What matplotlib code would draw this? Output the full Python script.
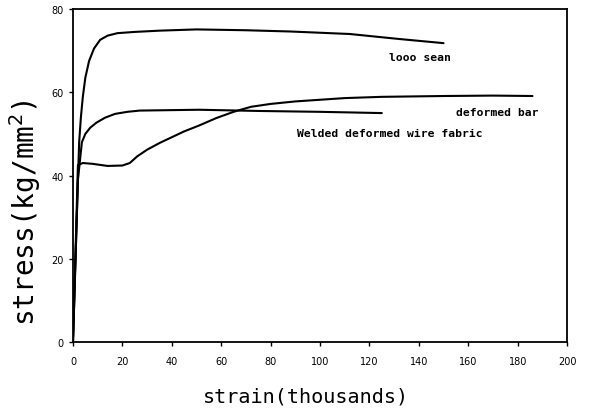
import matplotlib
matplotlib.use("Agg")
import matplotlib.pyplot as plt

# stress-strain curves (strain in thousands, stress in kg/mm2)
mesh_strain = [0, 2, 2.5, 3.2, 4, 5, 6.5, 8.5, 11, 14, 18, 25, 35, 50, 70, 88, 112, 132, 150]
mesh_stress = [0, 39, 48, 54, 59, 63.5, 67.5, 70.5, 72.6, 73.6, 74.2, 74.5, 74.8, 75.1,
               74.9, 74.6, 74.0, 72.8, 71.8]

wire_strain = [0, 2, 3.6, 5, 7, 9.5, 13, 17, 22, 27, 51, 76, 100, 125]
wire_stress = [0, 39, 48, 50, 51.5, 52.7, 53.9, 54.8, 55.3, 55.6, 55.8, 55.5, 55.3, 55.0]

bar_strain = [0, 2, 4, 8, 14, 20, 23, 26, 30, 35, 40, 45, 51, 58, 65, 72, 80, 90, 100,
              110, 125, 150, 170, 186]
bar_stress = [0, 42.5, 43, 42.8, 42.3, 42.4, 43, 44.6, 46.2, 47.8, 49.2, 50.6, 52.0, 53.8,
              55.3, 56.5, 57.2, 57.8, 58.2, 58.6, 58.9, 59.1, 59.2, 59.1]

x_ticks = [0, 20, 40, 60, 80, 100, 120, 140, 160, 180, 200]
y_ticks = [0, 20, 40, 60, 80]

fig = plt.figure(figsize=(5.91, 4.14), dpi=100)
ax = fig.add_axes([0.1235, 0.1715, 0.836, 0.8043])

for xs, ys in [(mesh_strain, mesh_stress), (wire_strain, wire_stress), (bar_strain, bar_stress)]:
    ax.plot(xs, ys, color="black", lw=1.5, solid_capstyle="round", solid_joinstyle="round")

lab = dict(fontsize=8.2, family="DejaVu Sans Mono", fontweight="bold", va="center")
ax.text(128, 68.5, "looo sean", **lab)
ax.text(155, 55.3, "deformed bar", **lab)
ax.text(90.5, 50.2, "Welded deformed wire fabric", **lab)

ax.set_xlim(0, 200)
ax.set_ylim(0, 80)
ax.set_xticks(x_ticks)
ax.set_yticks(y_ticks)
ax.tick_params(axis="both", labelsize=7, direction="out", length=3, width=1)
ax.tick_params(axis="x", pad=7)
for s in ax.spines.values():
    s.set_linewidth(1.3)

ax.set_xlabel("strain(thousands)", fontsize=14.5, family="DejaVu Sans Mono")
ax.xaxis.set_label_coords(0.472, -0.135)
ax.set_ylabel("stress(kg/mm$^2$)", fontsize=20, family="DejaVu Sans Mono")
ax.yaxis.set_label_coords(-0.06, 0.393)

fig.savefig("out.png", dpi=100)
